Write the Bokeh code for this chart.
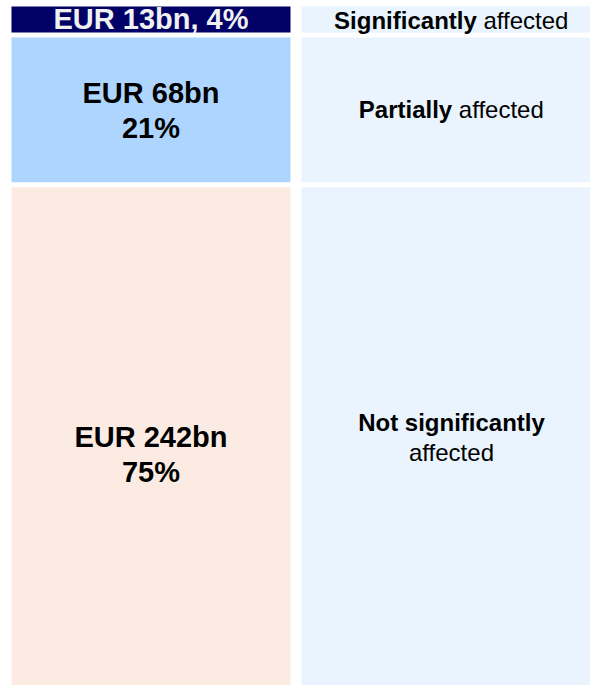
from bokeh.plotting import figure
from bokeh.models import Range1d, ColumnDataSource
from bokeh.core.properties import value
from bokeh.embed import file_html
from bokeh.resources import INLINE

# ---------------- data ----------------
segments = ["Significantly", "Partially", "Not significantly"]
amounts_bn = [13, 68, 242]
shares_pct = [4, 21, 75]
left_labels = ["EUR 13bn, 4%", "EUR 68bn\n21%", "EUR 242bn\n75%"]
right_bold = ["Significantly", "Partially", "Not significantly"]
right_regular = ["affected", "affected", "affected"]

# ---------------- styles / layout ----------------
left_colors = ["#000066", "#ADD5FE", "#FCEBE3"]
left_text_colors = ["#F0F0F0", "#000000", "#000000"]
right_color = "#EAF4FE"
right_stacked = [False, False, True]
right_extra_dy = [0, 0, -13]
left_extra_dy = [-2, 1, 4]
FONT = "Liberation Sans"
LEFT_FS = 29
RIGHT_FS = 24
RIGHT_LH = 30

W, H = 590, 685
PX_PER_BN = 2.2
TOP_BN = -6 / PX_PER_BN
GAP_BN = 5 / PX_PER_BN
LEFT_COL = (11, 290)
RIGHT_COL = (301, 601)

# Arial / Liberation Sans advance widths (em)
REG = {"a": .556, "f": .278, "e": .556, "c": .5, "t": .278, "d": .556, " ": .278}
BOLD = {"S": .667, "i": .278, "g": .611, "n": .611, "f": .333, "c": .556, "a": .556,
        "t": .333, "l": .278, "y": .556, "P": .667, "r": .389, "N": .722, "o": .611,
        "s": .556, " ": .278}


def width(s, table, fs):
    return sum(table.get(ch, .556) for ch in s) * fs


starts, ends = [], []
acc = 0
for v in amounts_bn:
    starts.append(acc)
    acc += v
    ends.append(acc)
n = len(amounts_bn)
tops = [s + (GAP_BN / 2 if i > 0 else 0) for i, s in enumerate(starts)]
bottoms = [e - (GAP_BN / 2 if i < n - 1 else 0) for i, e in enumerate(ends)]
mids = [(s + e) / 2 for s, e in zip(starts, ends)]

p = figure(width=W, height=H, output_backend="svg", toolbar_location=None,
           x_range=Range1d(0, W),
           y_range=Range1d(TOP_BN + H / PX_PER_BN, TOP_BN),
           min_border=0)
p.axis.visible = False
p.grid.visible = False
p.outline_line_color = None
p.background_fill_color = "white"
p.border_fill_color = "white"

left_src = ColumnDataSource(dict(
    left=[LEFT_COL[0]] * n, right=[LEFT_COL[1]] * n, top=tops, bottom=bottoms,
    color=left_colors, label=left_labels, tcolor=left_text_colors,
    x=[(LEFT_COL[0] + LEFT_COL[1]) / 2] * n, y=mids, yo=left_extra_dy))
p.quad(left="left", right="right", top="top", bottom="bottom", source=left_src,
       fill_color="color", line_color=None)
p.text(x="x", y="y", text="label", y_offset="yo", source=left_src, text_color="tcolor",
       text_font=value(FONT), text_font_style="bold",
       text_font_size=f"{LEFT_FS}px", text_align="center",
       text_baseline="middle", text_line_height=1.1)

right_src = ColumnDataSource(dict(
    left=[RIGHT_COL[0]] * n, right=[RIGHT_COL[1]] * n, top=tops, bottom=bottoms))
p.quad(left="left", right="right", top="top", bottom="bottom", source=right_src,
       fill_color=right_color, line_color=None)

xc = (RIGHT_COL[0] + RIGHT_COL[1]) / 2
b = dict(x=[], y=[], t=[], xo=[], yo=[], align=[])
r = dict(x=[], y=[], t=[], xo=[], yo=[], align=[])
for i in range(n):
    if right_stacked[i]:
        b["x"].append(xc); b["y"].append(mids[i]); b["t"].append(right_bold[i])
        b["xo"].append(0); b["yo"].append(-RIGHT_LH / 2 + right_extra_dy[i]); b["align"].append("center")
        r["x"].append(xc); r["y"].append(mids[i]); r["t"].append(right_regular[i])
        r["xo"].append(0); r["yo"].append(RIGHT_LH / 2 + right_extra_dy[i]); r["align"].append("center")
    else:
        wb = width(right_bold[i], BOLD, RIGHT_FS)
        ws = REG[" "] * RIGHT_FS
        wr = width(right_regular[i], REG, RIGHT_FS)
        tot = wb + ws + wr
        b["x"].append(xc); b["y"].append(mids[i]); b["t"].append(right_bold[i])
        b["xo"].append(-tot / 2); b["yo"].append(right_extra_dy[i]); b["align"].append("left")
        r["x"].append(xc); r["y"].append(mids[i]); r["t"].append(right_regular[i])
        r["xo"].append(-tot / 2 + wb + ws); r["yo"].append(right_extra_dy[i]); r["align"].append("left")

p.text(x="x", y="y", text="t", x_offset="xo", y_offset="yo", text_align="align",
       source=ColumnDataSource(b), text_color="#000000", text_font=value(FONT),
       text_font_style="bold", text_font_size=f"{RIGHT_FS}px", text_baseline="middle")
p.text(x="x", y="y", text="t", x_offset="xo", y_offset="yo", text_align="align",
       source=ColumnDataSource(r), text_color="#000000", text_font=value(FONT),
       text_font_style="normal", text_font_size=f"{RIGHT_FS}px", text_baseline="middle")

open("out.html", "w").write(file_html(p, INLINE))
